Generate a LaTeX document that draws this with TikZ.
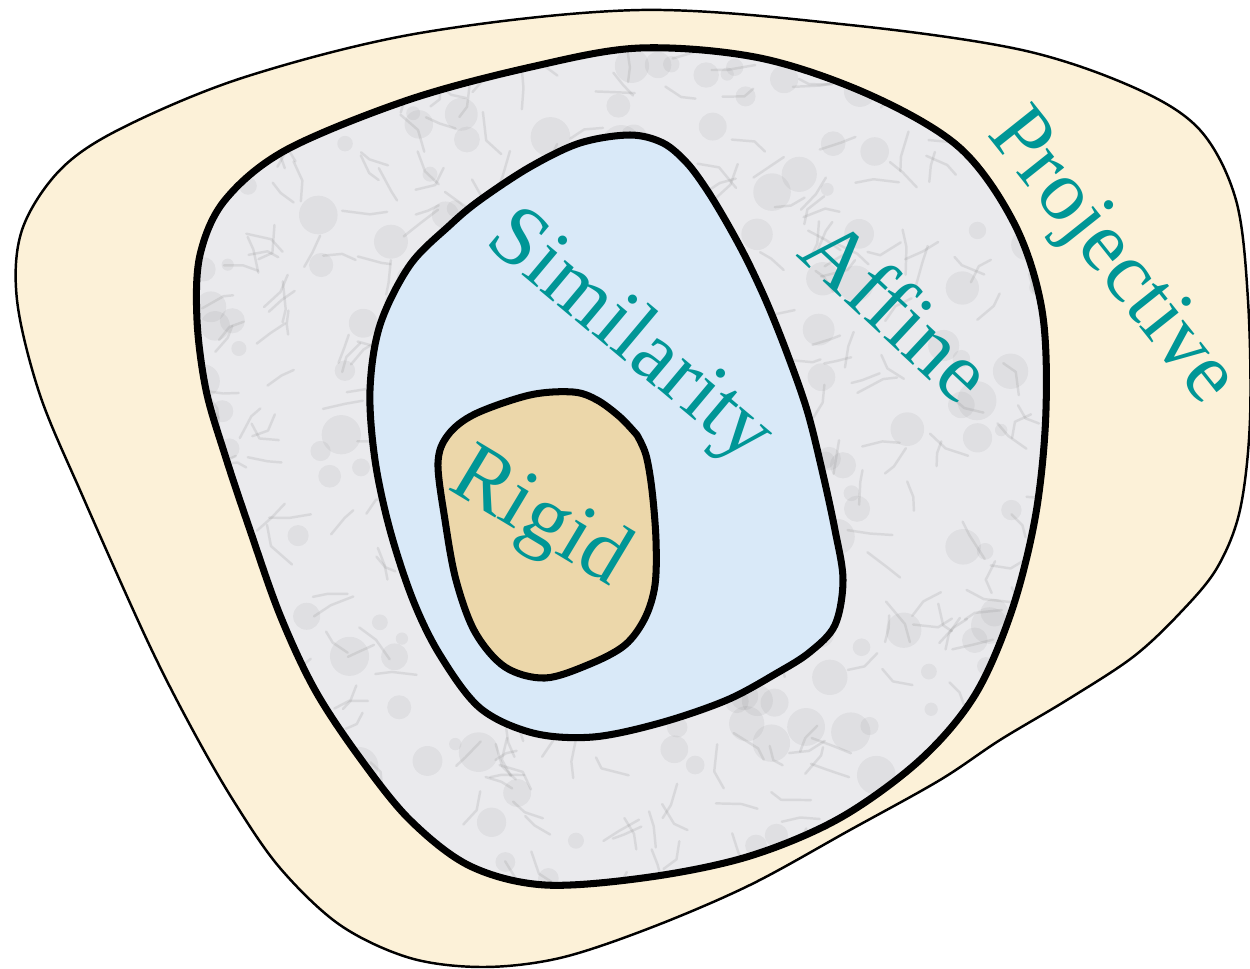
\documentclass[tikz,border=0pt]{standalone}
\usepackage{fontspec}
\setmainfont{Liberation Serif}
\usetikzlibrary{positioning}
\usepackage{xcolor}
\definecolor{projfill}{RGB}{252,241,216}
\definecolor{afffill}{RGB}{234,234,237}
\definecolor{simfill}{RGB}{217,233,248}
\definecolor{rigfill}{RGB}{236,215,170}
\definecolor{labelteal}{RGB}{0,150,150}
\tikzset{
  region/.style={draw=black,line width=2pt},
  vein/.style={draw=black!60,line width=0.7pt,opacity=0.13,line cap=round,line join=round},
  lbl/.style={text=labelteal,font=\fontsize{24.5}{28}\selectfont,inner sep=0pt},
}

\begin{document}
\begin{tikzpicture}[x=0.01cm,y=-0.01cm]
\useasboundingbox (0,0) rectangle (1250,969);
% projective
\draw[fill=projfill,line width=0.7pt] plot[smooth cycle,tension=0.55] coordinates {(640,10) (850,25) (1022,50) (1135,88) (1200,130) (1236,200) (1248,300) (1250,420) (1240,510) (1217,568) (1180,613) (1133,657) (1067,700) (1000,740) (940,780) (850,830) (750,885) (650,928) (560,958) (483,967) (410,958) (340,925) (280,868) (233,800) (190,725) (147,640) (83,497) (40,395) (17,300) (22,230) (60,170) (122,128) (245,77) (420,33)};
% affine
\path[save path=\affpath] plot[smooth cycle,tension=0.55] coordinates {(531,67) (640,48) (760,58) (870,95) (960,148) (1015,225) (1042,310) (1046,410) (1036,513) (1012,610) (975,695) (920,760) (840,818) (750,856) (650,877) (545,885) (470,866) (410,820) (360,758) (315,690) (280,615) (250,530) (225,455) (206,390) (197,320) (200,255) (225,200) (286,150) (408,100)};
\fill[afffill,use path=\affpath];
\begin{scope}
\path[use path=\affpath,clip];
\pgfmathsetseed{11}
\foreach \k in {1,...,220}{
  \pgfmathsetmacro\px{190+860*rnd}
  \pgfmathsetmacro\py{45+845*rnd}
  \pgfmathsetmacro\pr{6+14*rnd}
  \fill[black,opacity=0.045] (\px,\py) circle[radius=\pr];
}
\foreach \k in {1,...,420}{
  \pgfmathsetmacro\px{190+860*rnd}
  \pgfmathsetmacro\py{45+845*rnd}
  \pgfmathsetmacro\pa{360*rnd}
  \pgfmathsetmacro\pb{\pa+80*rnd-40}
  \draw[vein] (\px,\py) -- ++(\pa:10+20*rnd) -- ++(\pb:8+16*rnd);
}
\end{scope}
\draw[region,use path=\affpath];
% similarity
\draw[region,fill=simfill] plot[smooth cycle,tension=0.55] coordinates {(630,135) (663,143) (687,163) (707,190) (727,223) (747,260) (767,303) (787,353) (807,410) (822,470) (835,530) (843,580) (835,625) (810,652) (777,673) (727,700) (660,723) (593,737) (533,733) (480,708) (440,655) (413,600) (390,530) (375,460) (370,390) (380,325) (410,265) (450,225) (480,200) (530,167) (580,143)};
% rigid
\draw[region,fill=rigfill] plot[smooth,tension=0.55] coordinates {(637,435) (646,455) (652,490) (656,540) (655,585) (645,618) (625,645) (590,664) (545,678) (505,667) (475,632) (456,580) (445,520) (438,463) (448,435) (475,414) (530,395) (573,392) (597,400) (620,417) (637,435)} -- cycle;
% labels
\node[lbl,rotate=-51.5] (proj) at (1110,259) {Projective};
\node[lbl,rotate=-43] (aff) at (898,310) {Affine};
\node[lbl,rotate=-40] (sim) at (629,338) {Similarity};
\node[lbl,rotate=-31] (rig) at (539,520) {Rigid};
\end{tikzpicture}
\end{document}
